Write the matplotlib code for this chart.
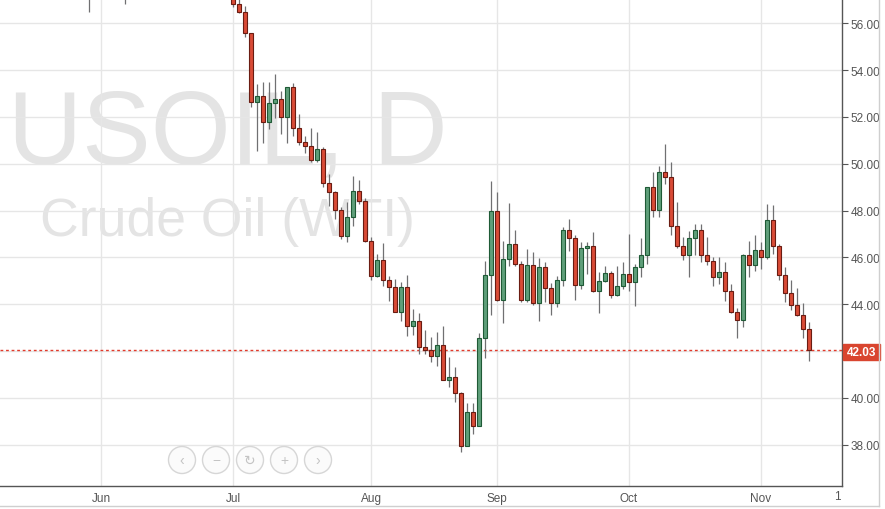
import numpy as np
import pandas as pd
import matplotlib
matplotlib.use("Agg")
import matplotlib.pyplot as plt
from matplotlib.patches import Rectangle, Ellipse
from matplotlib.lines import Line2D
from matplotlib.transforms import Bbox, TransformedBbox, blended_transform_factory

plt.rcParams["font.family"] = ["Liberation Sans", "DejaVu Sans"]

# ── USOIL daily bars (FXCM, weekdays incl. holidays) ──
dates = pd.bdate_range("2015-05-28", "2015-11-12")

opens = [
    58.40, 57.60, 60.20, 60.10, 61.20, 59.70, 58.00, 59.10, 58.20, 60.10,
    61.40, 60.80, 59.90, 59.50, 60.00, 60.40, 60.50, 59.60, 59.70, 61.00,
    60.30, 59.70, 59.60, 58.30,
    59.50, 56.82, 56.47, 55.57, 52.62, 52.88, 51.77, 52.58, 52.76, 51.98,
    53.26, 51.51, 50.91, 50.74, 50.15, 50.63, 49.16, 48.78, 48.03, 46.90,
    47.71, 48.82, 48.39, 46.71, 45.21, 45.87, 45.04, 44.72, 43.68, 44.72,
    43.05, 43.29, 42.15, 42.05, 41.80, 42.25, 40.77, 40.87, 40.19, 37.95,
    39.38, 38.80, 42.54, 45.24, 47.97, 44.19, 45.93, 46.56, 45.70, 44.16,
    45.66, 44.03, 45.57, 44.68, 44.03, 45.02, 47.17, 46.81, 44.83, 46.38,
    46.47, 44.55, 44.97, 45.33, 44.39, 44.76, 45.29, 44.93, 45.57, 46.11,
    48.99, 48.02, 49.63, 49.44, 47.35, 46.50, 46.11, 46.81, 47.18, 46.11,
    45.83, 45.15, 45.36, 44.55, 43.65, 43.32, 46.10, 45.67, 46.31, 46.00,
    47.59, 46.47, 45.26, 44.46, 43.97, 43.55, 42.94,
]
highs = [
    58.60, 60.40, 60.80, 61.40, 61.50, 60.10, 59.50, 59.40, 60.30, 61.60,
    61.70, 61.00, 60.10, 60.30, 60.80, 61.00, 60.60, 60.20, 61.20, 61.30,
    60.60, 60.00, 59.70, 59.70,
    59.60, 57.10, 56.75, 55.60, 53.41, 53.50, 53.48, 53.83, 53.09, 53.30,
    53.45, 52.12, 51.20, 51.52, 51.37, 50.70, 49.56, 48.85, 48.14, 48.35,
    49.49, 49.30, 48.52, 46.85, 46.14, 46.61, 45.19, 45.07, 44.93, 45.24,
    43.79, 43.62, 42.91, 42.58, 42.79, 43.08, 41.73, 41.30, 40.25, 39.76,
    39.76, 42.77, 45.85, 49.27, 48.80, 46.71, 48.33, 47.18, 45.84, 46.35,
    46.21, 45.97, 45.79, 44.90, 45.19, 47.28, 47.64, 46.95, 46.67, 46.64,
    47.07, 45.36, 45.62, 45.43, 45.62, 45.81, 47.00, 45.71, 46.82, 48.99,
    49.63, 49.91, 50.84, 50.06, 48.35, 46.85, 47.14, 47.42, 47.42, 46.85,
    46.00, 46.00, 45.79, 44.86, 43.82, 46.14, 46.71, 46.95, 46.67, 48.29,
    48.24, 46.57, 45.57, 45.04, 44.69, 44.05, 43.25,
]
lows = [
    56.48, 57.30, 59.40, 59.70, 59.50, 57.50, 56.81, 57.90, 58.00, 59.90,
    60.50, 59.60, 58.80, 59.20, 59.30, 59.80, 59.30, 59.00, 59.50, 60.10,
    59.40, 59.20, 57.60, 58.00,
    56.68, 56.45, 55.40, 52.41, 50.56, 50.88, 51.48, 51.94, 51.27, 50.88,
    51.20, 50.81, 50.46, 50.09, 50.06, 48.99, 48.21, 47.64, 46.78, 46.64,
    47.35, 48.28, 46.67, 45.03, 45.15, 44.79, 44.15, 43.65, 43.29, 42.65,
    42.69, 41.87, 41.87, 41.54, 41.37, 40.75, 40.44, 39.80, 37.67, 37.95,
    38.45, 38.80, 41.68, 43.55, 44.15, 43.18, 45.62, 45.65, 44.10, 44.10,
    43.97, 43.29, 44.10, 43.55, 43.86, 44.76, 46.28, 44.19, 44.65, 45.29,
    44.50, 43.62, 44.95, 44.25, 44.33, 44.65, 44.57, 43.93, 45.17, 45.71,
    47.71, 47.74, 49.13, 46.97, 46.40, 45.88, 45.17, 46.11, 45.79, 45.68,
    44.79, 44.86, 44.15, 43.62, 42.54, 43.01, 45.15, 45.43, 45.50, 45.93,
    46.14, 45.04, 44.08, 43.76, 43.50, 42.54, 41.58,
]
closes = [
    57.60, 60.20, 60.10, 61.20, 59.70, 58.00, 59.10, 58.20, 60.10, 61.40,
    60.80, 59.90, 59.50, 60.00, 60.40, 60.50, 59.60, 59.70, 61.00, 60.30,
    59.70, 59.60, 58.30, 59.50,
    56.82, 56.47, 55.57, 52.62, 52.88, 51.77, 52.58, 52.76, 51.98, 53.26,
    51.51, 50.91, 50.74, 50.15, 50.63, 49.16, 48.78, 48.03, 46.90, 47.71,
    48.82, 48.39, 46.71, 45.21, 45.87, 45.04, 44.72, 43.68, 44.72, 43.05,
    43.29, 42.15, 42.05, 41.80, 42.25, 40.77, 40.87, 40.19, 37.95, 39.38,
    38.80, 42.54, 45.24, 47.97, 44.19, 45.93, 46.56, 45.70, 44.16, 45.66,
    44.03, 45.57, 44.68, 44.03, 45.02, 47.17, 46.81, 44.83, 46.38, 46.47,
    44.55, 44.97, 45.33, 44.39, 44.76, 45.29, 44.93, 45.57, 46.11, 48.99,
    48.02, 49.63, 49.44, 47.35, 46.50, 46.11, 46.81, 47.18, 46.11, 45.83,
    45.15, 45.36, 44.55, 43.65, 43.32, 46.10, 45.67, 46.31, 46.00, 47.59,
    46.47, 45.26, 44.46, 43.97, 43.55, 42.94, 42.03,
]

price_ticks = [38, 40, 42, 44, 46, 48, 50, 52, 54, 56]

UP_FILL, UP_EDGE = "#5f9f7a", "#1f5a36"
DN_FILL, DN_EDGE = "#d94b36", "#6a1c12"
WICK = "#707072"


def main():
    W, H = 885, 510
    fig = plt.figure(figsize=(W / 100, H / 100), dpi=100)
    ax = fig.add_axes([0, 1 - 487 / H, 842 / W, 487 / H])

    o = np.array(opens)
    h = np.array(highs)
    l = np.array(lows)
    c = np.array(closes)
    x = np.arange(len(dates))
    up = c >= o
    last = closes[-1]

    # 軸範囲 (1本 = 6px, 7/1 の足が x=233px)
    j0 = int(np.where(dates == pd.Timestamp("2015-07-01"))[0][0])
    ax.set_xlim(j0 - 233 / 6, j0 + 609 / 6)
    ax.set_ylim(36.23, 57.04)

    # ウォーターマーク
    ax.text(228 / W, 1 - 164 / H, "USOIL, D", transform=fig.transFigure,
            ha="center", va="baseline", fontsize=74, color="#e4e4e4", zorder=0.1)
    ax.text(227 / W, 1 - 236 / H, "Crude Oil (WTI)", transform=fig.transFigure,
            ha="center", va="baseline", fontsize=38.5, color="#e4e4e4", zorder=0.1)

    # ローソク足
    ax.vlines(x, l, h, color=WICK, lw=0.9, zorder=2)
    bottom = np.minimum(o, c)
    height = np.maximum(np.abs(c - o), 0.06)
    ax.bar(x[up], height[up], bottom=bottom[up], width=0.7,
           color=UP_FILL, edgecolor=UP_EDGE, lw=0.8, zorder=3)
    ax.bar(x[~up], height[~up], bottom=bottom[~up], width=0.7,
           color=DN_FILL, edgecolor=DN_EDGE, lw=0.8, zorder=3)

    # 現在値ライン
    ax.axhline(last, color="#e23a2b", lw=1, ls=(0, (2, 2)), zorder=1.8)

    # 月目盛り
    month_idx = [i for i in range(1, len(dates)) if dates[i].month != dates[i - 1].month]
    ax.set_xticks(month_idx)
    ax.set_xticklabels([dates[i].strftime("%b") for i in month_idx])
    ax.set_yticks(price_ticks)
    # 42.00 は現在値ラベルに隠れる
    ax.set_yticklabels(["" if abs(p - last) < 0.5 else "%.2f" % p for p in price_ticks])
    ax.yaxis.tick_right()

    ax.set_axisbelow(True)
    ax.grid(True, color="#e6e6e6", lw=1)
    for s in ["left", "top"]:
        ax.spines[s].set_visible(False)
    for s in ["right", "bottom"]:
        ax.spines[s].set_color("#555555")
        ax.spines[s].set_linewidth(1)
    ax.tick_params(axis="y", direction="out", length=4, color="#555555",
                   labelcolor="#555555", labelsize=8.5, pad=2)
    ax.tick_params(axis="x", length=0, labelcolor="#555555", labelsize=8.5, pad=4)

    # 右端で切れた "15"
    t = ax.text(j0 + 608 / 6, 1 - 497 / H, "15",
                transform=blended_transform_factory(ax.transData, fig.transFigure),
                ha="center", va="center", fontsize=8.5, color="#555555")
    t.set_clip_on(True)
    t.set_clip_box(TransformedBbox(Bbox([[0, 0], [841 / W, 1]]), fig.transFigure))

    # 価格ラベル
    fig.add_artist(Rectangle((843 / W, 1 - 361 / H), 37 / W, 16 / H,
                             transform=fig.transFigure, color="#d9452f"))
    fig.text(861.5 / W, 1 - 353 / H, "%.2f" % last, ha="center", va="center",
             fontsize=8.5, color="white", fontweight="bold")

    # ナビゲーションボタン
    for k, g in enumerate(["‹", "−", "↻", "+", "›"]):
        cx, cy = (182 + 34 * k) / W, 1 - 461 / H
        fig.add_artist(Ellipse((cx, cy), 27 / W, 27 / H, transform=fig.transFigure,
                               facecolor="#fbfbfb", edgecolor="#d6d6d6", lw=1, zorder=5))
        fig.text(cx, cy, g, ha="center", va="center", fontsize=10,
                 color="#c4c4c4", zorder=6)

    # 枠線
    fig.add_artist(Line2D([879 / W, 879 / W], [1 - 507 / H, 1], transform=fig.transFigure,
                          color="#cfcfcf", lw=1))
    fig.add_artist(Line2D([0, 879 / W], [1 - 507 / H, 1 - 507 / H], transform=fig.transFigure,
                          color="#cfcfcf", lw=1))

    fig.savefig("out.png", dpi=100)


if __name__ == "__main__":
    main()
